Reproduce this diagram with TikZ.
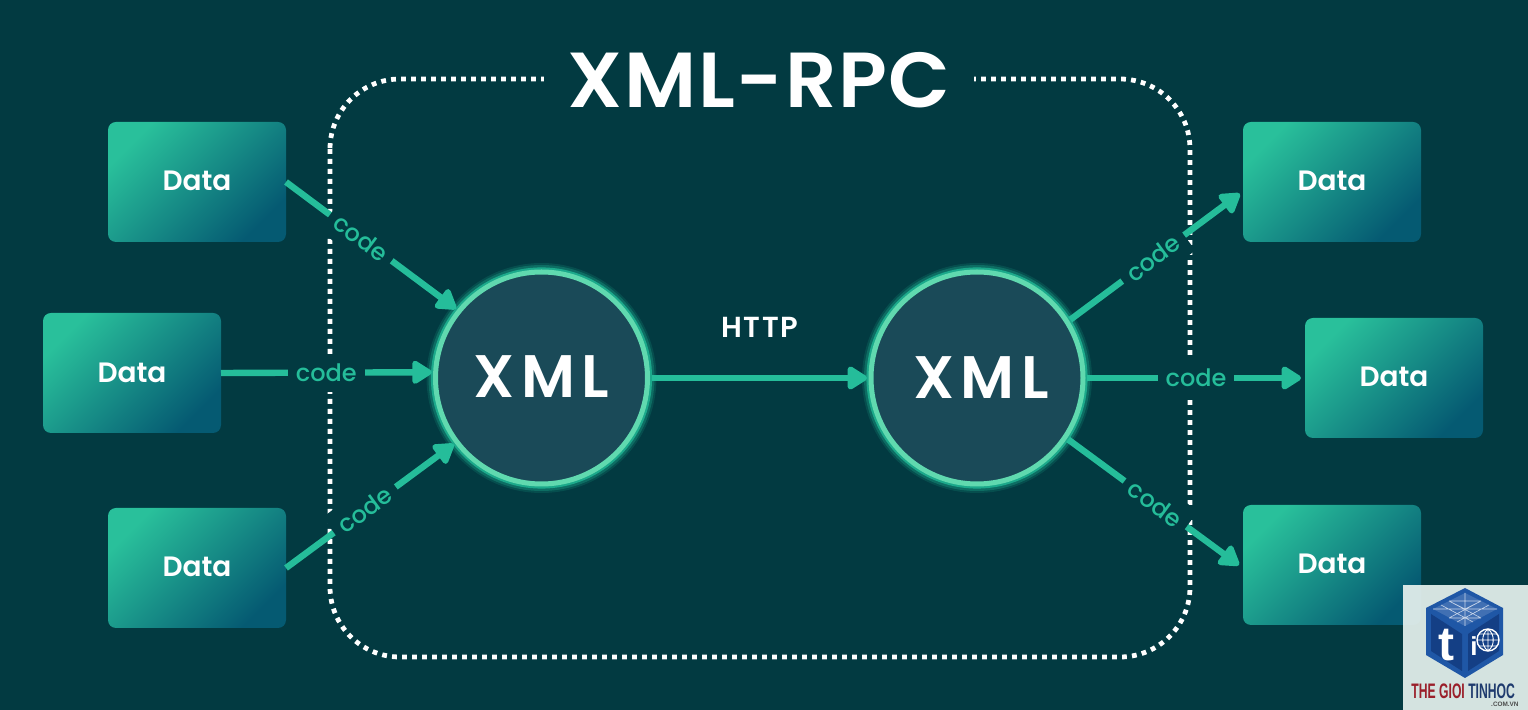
\documentclass[tikz,border=0pt]{standalone}
\usepackage{fontspec}
\usetikzlibrary{arrows.meta}
\setmainfont{Poppins}
\newfontfamily\titlefont[LetterSpace=2]{Poppins SemiBold}
\newfontfamily\xmlfont[LetterSpace=11]{Poppins SemiBold}
\newfontfamily\datafont{Poppins SemiBold}
\newfontfamily\httpfont[LetterSpace=6]{Poppins SemiBold}
\newfontfamily\codefont{Poppins Medium}
\newfontfamily\logofont{Liberation Sans}
\definecolor{bg}{HTML}{023A41}
\definecolor{boxa}{HTML}{29C09B}
\definecolor{boxb}{HTML}{055A72}
\definecolor{line}{HTML}{25BD9A}
\definecolor{ringl}{HTML}{60D9AF}
\definecolor{ringd}{HTML}{1CA98B}
\definecolor{disc}{HTML}{1A4A58}
\definecolor{cubea}{HTML}{1F57A6}
\definecolor{cubeb}{HTML}{143F85}
\tikzset{
  x=0.5pt,y=-0.5pt,
  databox/.style={minimum width=89pt,minimum height=60pt,inner sep=0pt,outer sep=0pt,rounded corners=4pt,
    top color=boxa,bottom color=boxb,shading angle=45,text=white,font=\datafont\fontsize{14}{16}\selectfont},
  xmlnode/.style={circle,minimum size=106pt,inner sep=0pt,outer sep=2pt,fill=disc,draw=ringl,line width=2.5pt,
    text=white,font=\xmlfont\fontsize{30}{33}\selectfont},
  link/.style={draw=line,line width=3.2pt,-{Triangle[length=11pt,width=13pt,round]}},
  codelabel/.style={fill=bg,text=line,inner xsep=4pt,inner ysep=0pt,minimum height=19pt,font=\codefont\fontsize{12}{14}\selectfont},
  frameline/.style={draw=white,line width=2.4pt,dash pattern=on 2.4pt off 2.6pt},
}
\begin{document}
\begin{tikzpicture}
\useasboundingbox (0,0) rectangle (1528,710);
\fill[bg] (0,0) rectangle (1528,710);

\draw[frameline,rounded corners=35pt] (330,79) rectangle (1190,657);
\node[fill=bg,text=white,inner xsep=12pt,inner ysep=2pt,font=\titlefont\fontsize{39}{43}\selectfont] (title) at (759,80) {\scalebox{1.03}[1]{XML-RPC}};

\node[databox] (d1) at (197,182) {\raisebox{1pt}{Data}};
\node[databox] (d2) at (132,373) {\raisebox{.5pt}{Data}};
\node[databox] (d3) at (197,568) {\raisebox{1pt}{Data}};
\node[databox] (d4) at (1332,182) {\raisebox{1pt}{Data}};
\node[databox] (d5) at (1394,378) {\raisebox{1pt}{Data}};
\node[databox] (d6) at (1332,565) {\raisebox{1pt}{Data}};

\foreach \c in {541.5,977}{
  \fill[ringd,opacity=.18] (\c,378) circle (57.5pt);
  \fill[ringd,opacity=.35] (\c,378) circle (56.5pt);
  \fill[ringd] (\c,378) circle (55.3pt);
}
\node[xmlnode] (x1) at (541.5,378) {\raisebox{1pt}{XML}};
\node[xmlnode] (x2) at (977,378) {\hspace*{4pt}XML};

\draw[link] (d1.east) -- node[codelabel,sloped,pos=.44] {code} (x1.141);
\draw[link] (d2.east) -- node[codelabel,pos=.5] {code} (x1.177);
\draw[link] (d3.east) -- node[codelabel,sloped,pos=.47] {code} (x1.217);
\draw[link] (x1.east) -- (x2.west);
\node[text=white,font=\httpfont\fontsize{14.5}{16}\selectfont] (http) at (760,327) {HTTP};
\draw[link,shorten >=2pt] (x2.32) -- node[codelabel,sloped,pos=.48] {code} (d4.186);
\draw[link,shorten >=2pt] (x2.east) -- node[codelabel,pos=.5] {code} (d5.west);
\draw[link,shorten >=2.5pt] (x2.326) -- node[codelabel,sloped,pos=.5] {code} (d6.182);

% logo
\fill[fill=black!2!boxa!8!white!92!gray,opacity=.93] (1403,585) rectangle (1528,710);
\fill[cubea] (1465,588) -- (1503,608) -- (1503,655) -- (1465,678) -- (1426,655) -- (1426,608) -- cycle;
\fill[cubeb] (1431,614) -- (1462,634) -- (1462,671) -- (1431,651) -- cycle;
\fill[cubeb] (1499,614) -- (1468,634) -- (1468,671) -- (1499,651) -- cycle;
\fill[cubea!85!white] (1465,593) -- (1497,609) -- (1465,626) -- (1433,609) -- cycle;
\draw[white!75!cubea,line width=.3pt] (1465,593) -- (1465,626) (1433,609) -- (1497,609)
  (1449,601) -- (1481,618) (1481,601) -- (1449,618) (1449,601) -- (1481,601) (1449,618) -- (1481,618)
  (1449,601) -- (1465,609) -- (1481,601) (1441,605) -- (1473,622) (1489,605) -- (1457,622);
\node[inner sep=0pt,text=white,font=\logofont\bfseries\fontsize{24}{24}\selectfont] (logot) at (1446,645) {t};
\node[inner sep=0pt,text=white,font=\logofont\bfseries\fontsize{13}{13}\selectfont] (logoi) at (1474,646) {i};
\draw[white,line width=.7pt] (1488,640) circle (5.5pt);
\draw[white,line width=.45pt] (1488,629) -- (1488,651) (1477,640) -- (1499,640)
  (1479,634) -- (1497,634) (1479,646) -- (1497,646)
  (1488,629) .. controls (1481,634) and (1481,646) .. (1488,651)
  (1488,629) .. controls (1495,634) and (1495,646) .. (1488,651);
\node[inner sep=0pt,anchor=west] (logotext) at (1411,691) {\scalebox{.58}[1]{\logofont\bfseries\fontsize{10.5}{12}\selectfont\textcolor[HTML]{9A1F2A}{THE GIOI} \textcolor[HTML]{1F3B6E}{TINHOC}}};
\node[inner sep=0pt,anchor=east,text=black!70,font=\logofont\bfseries\fontsize{3.2}{4}\selectfont] (logocom) at (1519,704) {.COM.VN};
\end{tikzpicture}
\end{document}
